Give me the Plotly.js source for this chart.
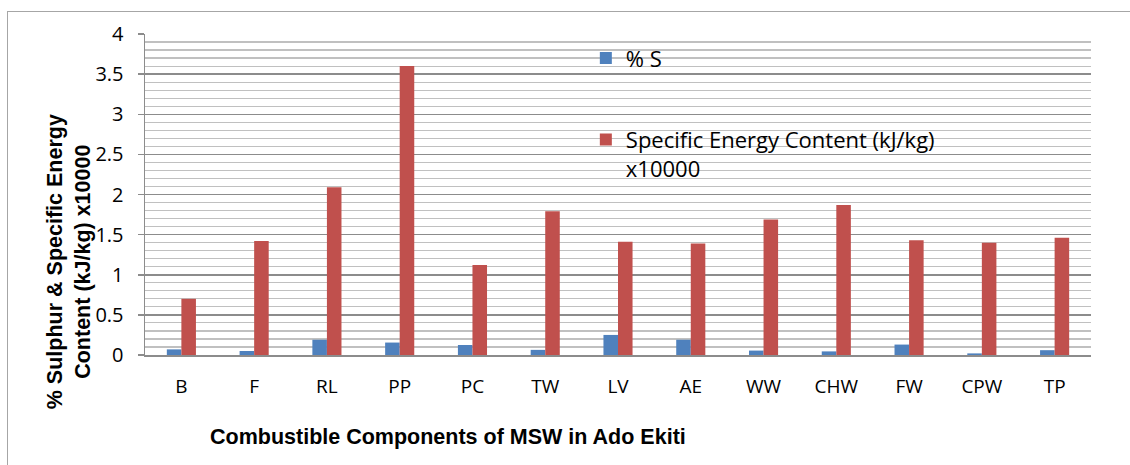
<!DOCTYPE html>
<html>
<head>
<meta charset="utf-8">
<script src="https://cdn.plot.ly/plotly-3.0.1.min.js"></script>
<style>
  html, body { margin: 0; padding: 0; background: #fff; }
  #frame { position: absolute; left: 7px; top: 11px; width: 1140px; height: 470px; border: 1px solid #a6a6a6; box-sizing: border-box; }
  #chart { position: absolute; left: 0; top: 0; width: 1130px; height: 465px; }
</style>
</head>
<body>
<div id="frame"></div>
<div id="chart"></div>
<script>
const categories = ["B", "F", "RL", "PP", "PC", "TW", "LV", "AE", "WW", "CHW", "FW", "CPW", "TP"];
const sulphurPct = [0.07, 0.05, 0.19, 0.155, 0.125, 0.064, 0.25, 0.19, 0.055, 0.045, 0.13, 0.02, 0.06];
const energyContent = [0.70, 1.42, 2.09, 3.60, 1.12, 1.79, 1.41, 1.39, 1.69, 1.87, 1.43, 1.40, 1.46];
const seriesNames = ["% S", "Specific Energy Content (kJ/kg)<br>x10000"];
const yTitle = "% Sulphur & Specific Energy<br>Content (kJ/kg) x10000";
const xTitle = "Combustible Components of MSW in Ado Ekiti";

const traces = [
  { type: "bar", x: categories, y: sulphurPct, name: seriesNames[0], legendgroup: "a",
    marker: { color: "#4f81bd" } },
  { type: "bar", x: categories, y: energyContent, name: seriesNames[1], legendgroup: "b",
    marker: { color: "#c0504d" } }
];

const layout = {
  width: 1130, height: 465,
  margin: { l: 145, r: 39, t: 34, b: 110 },
  paper_bgcolor: "rgba(0,0,0,0)",
  plot_bgcolor: "rgba(0,0,0,0)",
  font: { family: "Open Sans, sans-serif", size: 19, color: "#000" },
  barmode: "group", bargap: 0.6, bargroupgap: 0,
  showlegend: true,
  legend: {
    x: 0.466, xanchor: "left", y: 0.99, yanchor: "top",
    bgcolor: "rgba(0,0,0,0)", borderwidth: 0,
    tracegroupgap: 50, valign: "top", traceorder: "grouped",
    font: { family: "Open Sans, sans-serif", size: 22, color: "#000" }
  },
  xaxis: {
    type: "category", showgrid: false, zeroline: false,
    showline: true, linecolor: "#8c8c8c", linewidth: 2,
    ticks: "", ticklabelstandoff: 13,
    tickfont: { family: "Open Sans, sans-serif", size: 19, color: "#000" }
  },
  yaxis: {
    range: [0, 4], dtick: 0.5, tick0: 0,
    showgrid: true, gridcolor: "#8c8c8c", gridwidth: 1.5,
    minor: { dtick: 0.1, showgrid: true, gridcolor: "#c0c0c0", gridwidth: 1.2, ticks: "" },
    zeroline: false, showline: true, linecolor: "#8c8c8c", linewidth: 1.5,
    ticks: "outside", ticklen: 6, tickcolor: "#8c8c8c", tickwidth: 1.5,
    ticksuffix: "\u2002",
    tickfont: { family: "Open Sans, sans-serif", size: 20, color: "#000" }
  },
  annotations: [
    { text: yTitle, xref: "paper", yref: "paper", x: -0.08, y: 0.29,
      xanchor: "center", yanchor: "middle", textangle: -90, showarrow: false,
      font: { family: "Liberation Sans, Arial, sans-serif", size: 21.5, color: "#000", weight: "bold" } },
    { text: xTitle, xref: "paper", yref: "paper", x: 0.32, y: -0.255,
      xanchor: "center", yanchor: "middle", showarrow: false,
      font: { family: "Liberation Sans, Arial, sans-serif", size: 21.5, color: "#000", weight: "bold" } }
  ]
};

Plotly.newPlot("chart", traces, layout, { displayModeBar: false, staticPlot: true });
</script>
</body>
</html>
